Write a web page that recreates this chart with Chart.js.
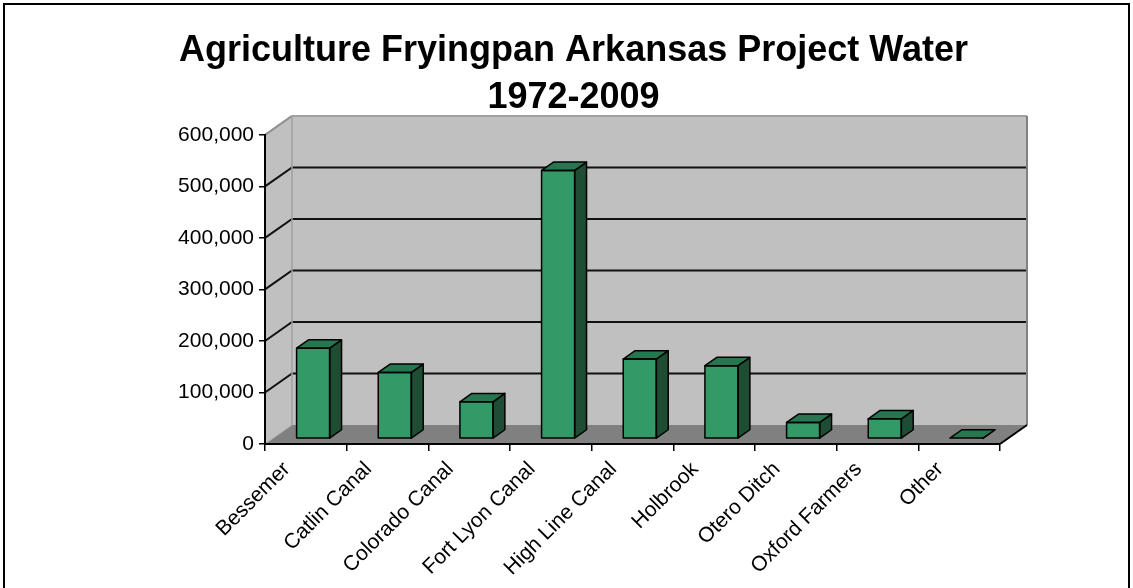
<!DOCTYPE html>
<html><head><meta charset="utf-8">
<script src="https://cdn.jsdelivr.net/npm/chart.js@4.4.0/dist/chart.umd.min.js"></script>
<style>html,body{margin:0;padding:0;background:#fff;overflow:hidden}</style>
</head><body>
<canvas id="c" width="1133" height="588"></canvas>
<script>
const categories = ["Bessemer","Catlin Canal","Colorado Canal","Fort Lyon Canal","High Line Canal","Holbrook","Otero Ditch","Oxford Farmers","Other"];
const waterValues = [176000,129000,72000,521000,155000,142000,32000,39000,1000];
const yTicks = [0,100000,200000,300000,400000,500000,600000];
const titleLines = ["Agriculture Fryingpan Arkansas Project Water","1972-2009"];

const FONT = '"Liberation Sans", Arial, sans-serif';
const DX = 27, DY = -19, F0 = 0.27, F1 = 0.71;

function poly(ctx, pts, fill, stroke, lw) {
  ctx.beginPath();
  ctx.moveTo(pts[0][0], pts[0][1]);
  for (let i = 1; i < pts.length; i++) ctx.lineTo(pts[i][0], pts[i][1]);
  ctx.closePath();
  if (fill) { ctx.fillStyle = fill; ctx.fill(); }
  if (stroke) { ctx.strokeStyle = stroke; ctx.lineWidth = lw || 1; ctx.stroke(); }
}
function line(ctx, x1, y1, x2, y2, c, lw) {
  ctx.beginPath(); ctx.moveTo(x1, y1); ctx.lineTo(x2, y2);
  ctx.strokeStyle = c; ctx.lineWidth = lw; ctx.stroke();
}

const threeD = {
  id: 'threeD',
  beforeDraw(chart) {
    const ctx = chart.ctx, a = chart.chartArea, ys = chart.scales.y;
    const L = a.left, R = a.right;
    const yTop = ys.getPixelForValue(yTicks[yTicks.length - 1]);
    const y0 = ys.getPixelForValue(0);
    ctx.save();
    ctx.lineJoin = 'miter';
    poly(ctx, [[L+DX, yTop+DY], [R+DX, yTop+DY], [R+DX, y0+DY], [L+DX, y0+DY]], '#c0c0c0');
    poly(ctx, [[L, yTop], [L+DX, yTop+DY], [L+DX, y0+DY], [L, y0]], '#c0c0c0');
    poly(ctx, [[L, y0], [R, y0], [R+DX, y0+DY], [L+DX, y0+DY]], '#808080');
    yTicks.forEach(v => {
      if (v === 0 || v === yTicks[yTicks.length - 1]) return;
      const y = ys.getPixelForValue(v);
      ctx.beginPath();
      ctx.moveTo(L, y); ctx.lineTo(L+DX, y+DY); ctx.lineTo(R+DX, y+DY);
      ctx.strokeStyle = '#111'; ctx.lineWidth = 2; ctx.stroke();
    });
    line(ctx, L, yTop, L+DX, yTop+DY, '#909090', 2);
    line(ctx, L+DX, yTop+DY, R+DX, yTop+DY, '#a0a0a0', 2);
    line(ctx, R+DX, yTop+DY, R+DX, y0+DY, '#808080', 2);
    line(ctx, L+DX, yTop+DY, L+DX, y0+DY, '#a0a0a0', 1.5);
    line(ctx, L, y0, L+DX, y0+DY, '#a8a8a8', 1);
    line(ctx, R, y0, R+DX, y0+DY, '#000', 2);
    ctx.restore();
  },
  beforeDatasetsDraw(chart) {
    chart.ctx.save();
    chart.ctx.translate(F0*DX, F0*DY);
  },
  afterDatasetsDraw(chart) {
    const ctx = chart.ctx;
    ctx.restore();
    const ox = F0*DX, oy = F0*DY, d = (F1-F0)*DX, e = (F1-F0)*DY;
    ctx.save();
    ctx.lineJoin = 'round';
    chart.getDatasetMeta(0).data.forEach(el => {
      const p = el.getProps(['x','y','base','width'], true);
      const l = p.x - p.width/2 + ox, r = p.x + p.width/2 + ox;
      const t = Math.min(p.y, p.base) + oy, b = Math.max(p.y, p.base) + oy;
      poly(ctx, [[r, t], [r+d, t+e], [r+d, b+e], [r, b]], '#1e4d34', '#000', 1.5);
      poly(ctx, [[l, t], [r, t], [r+d, t+e], [l+d, t+e]], '#277650', '#000', 1.5);
      if (b - t > 1) { ctx.strokeStyle = '#000'; ctx.lineWidth = 1.5; ctx.strokeRect(l, t, r-l, b-t); }
    });
    ctx.restore();
  },
  afterDraw(chart) {
    const ctx = chart.ctx;
    ctx.save();
    ctx.strokeStyle = '#000'; ctx.lineWidth = 2;
    ctx.strokeRect(4, 4, 1125, 600);
    ctx.restore();
  }
};

new Chart(document.getElementById('c'), {
  type: 'bar',
  data: {
    labels: categories,
    datasets: [{
      data: waterValues,
      backgroundColor: '#339966',
      borderColor: '#000',
      borderWidth: 0,
      barPercentage: 0.405,
      categoryPercentage: 1.0
    }]
  },
  options: {
    responsive: false,
    animation: false,
    events: [],
    layout: { padding: { left: 14, right: 0, top: 0, bottom: 0 } },
    plugins: {
      legend: { display: false },
      tooltip: { enabled: false },
      title: {
        display: true,
        text: titleLines,
        color: '#000',
        font: { family: FONT, size: 36, weight: 'bold', lineHeight: 1.29 },
        padding: { top: 28, bottom: 14 }
      }
    },
    scales: {
      x: {
        grid: { offset: true, drawOnChartArea: false, tickLength: 7, color: '#000', lineWidth: 1.5 },
        border: { color: '#000', width: 2 },
        ticks: { color: '#000', font: { family: FONT, size: 21 }, minRotation: 45, maxRotation: 45, autoSkip: false, labelOffset: -19, padding: 6 },
        afterFit(s) { s.height = 144; }
      },
      y: {
        min: 0, max: 600000,
        grid: { drawOnChartArea: false, tickLength: 6, color: '#000', lineWidth: 1.5 },
        border: { color: '#000', width: 2 },
        afterBuildTicks(s) { s.ticks = yTicks.map(v => ({ value: v })); },
        ticks: { color: '#000', font: { family: FONT, size: 21 }, padding: 5,
          callback: v => v.toLocaleString('en-US') },
        afterFit(s) { s.width = 251; }
      },
      y2: {
        position: 'right', display: true,
        grid: { display: false }, border: { display: false },
        ticks: { display: false },
        afterFit(s) { s.width = 133; }
      }
    }
  },
  plugins: [threeD]
});
</script>
</body></html>
